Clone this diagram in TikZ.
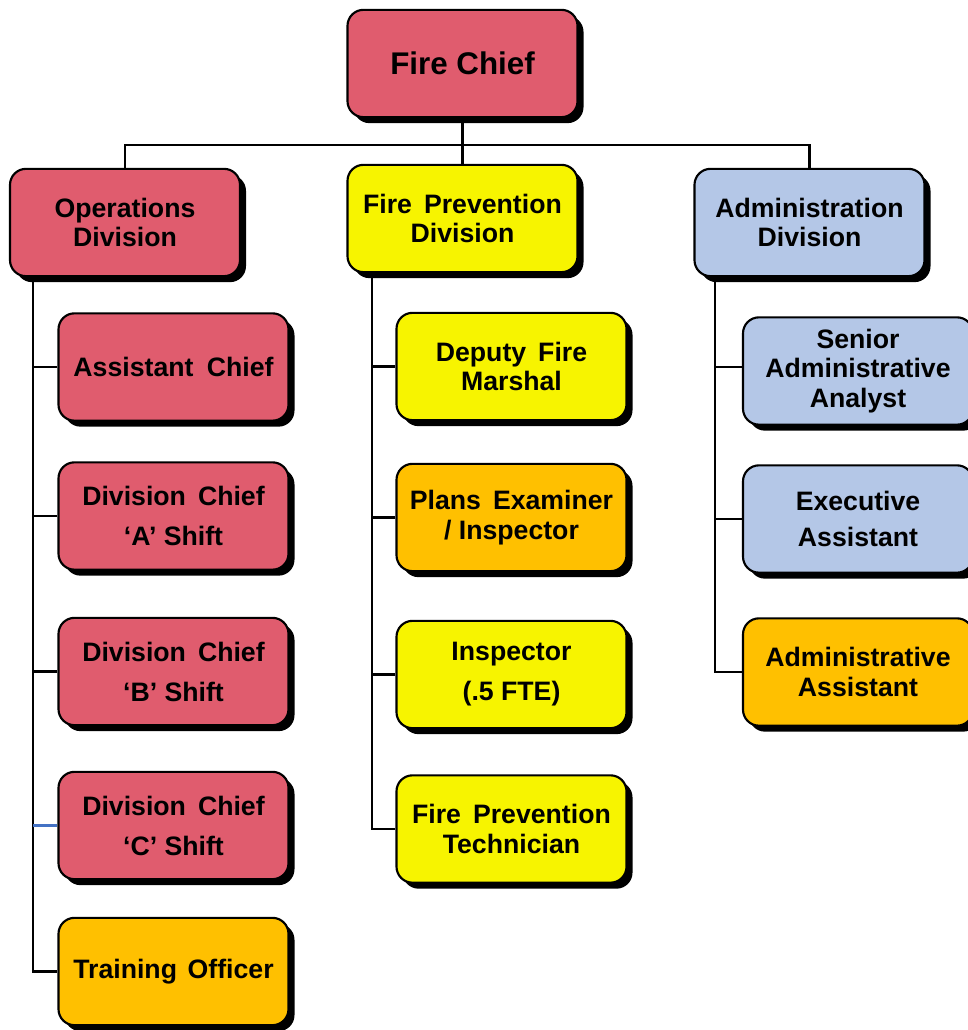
\documentclass[tikz,border=0pt]{standalone}
\usepackage{fontspec}
\setmainfont{Liberation Sans}
\usetikzlibrary{shadows}
\definecolor{cred}{HTML}{E05C6E}
\definecolor{cyel}{HTML}{F7F400}
\definecolor{corg}{HTML}{FFC000}
\definecolor{cblu}{HTML}{B4C7E7}
\definecolor{cline}{HTML}{4472C4}
\begin{document}
\begin{tikzpicture}[x=0.75pt,y=-0.75pt,
  orgbox/.style={draw=black, line width=1.6pt, rounded corners=12pt,
    minimum width=172.5pt, minimum height=80.5pt, align=center, inner sep=2pt,
    font=\bfseries\fontsize{20}{22}\selectfont,
    drop shadow={shadow xshift=4.5pt, shadow yshift=-4.5pt, fill=black, opacity=1}},
  redbox/.style={orgbox, fill=cred},
  yelbox/.style={orgbox, fill=cyel},
  orgfill/.style={orgbox, fill=corg},
  blubox/.style={orgbox, fill=cblu},
  conn/.style={draw=black, line width=1.6pt}]
\useasboundingbox (0,0) rectangle (967,1030);

% top level
\node[redbox, font=\bfseries\fontsize{23.5}{26}\selectfont] (chief) at (462.5,63.5) {Fire Chief};

% divisions
\node[redbox] (ops) at (125,222.5) {Operations\\Division};
\node[yelbox] (fpd) at (462.5,218.5) {Fire\hspace{0.45em}Prevention\\Division};
\node[blubox] (adm) at (809.5,222.5) {Administration\\Division};

% operations column
\node[redbox] (asst) at (173.5,367) {Assistant\hspace{0.5em}Chief};
\node[redbox] (dca) at (173.5,516) {Division\hspace{0.45em}Chief\\[8pt]`A' Shift};
\node[redbox] (dcb) at (173.5,671.5) {Division\hspace{0.45em}Chief\\[8pt]`B' Shift};
\node[redbox] (dcc) at (173.5,825.5) {Division\hspace{0.45em}Chief\\[8pt]`C' Shift};
\node[orgfill] (train) at (173.5,971.5) {Training\hspace{0.4em}Officer};

% fire prevention column
\node[yelbox] (dfm) at (511.5,366.5) {Deputy\hspace{0.45em}Fire\\Marshal};
\node[orgfill] (plans) at (511.5,517.5) {Plans\hspace{0.45em}Examiner\\/ Inspector};
\node[yelbox] (insp) at (511.5,674.5) {Inspector\\[8pt](.5 FTE)};
\node[yelbox] (tech) at (511.5,829) {Fire\hspace{0.45em}Prevention\\Technician};

% administration column
\node[blubox] (saa) at (858,371) {Senior\\Administrative\\Analyst};
\node[blubox] (exec) at (858,519) {Executive\\[5pt]Assistant};
\node[orgfill] (aa) at (858,672) {Administrative\\Assistant};

% top connectors
\coordinate (bus) at (462.5,145);
\draw[conn] (chief.south) -- (fpd.north);
\draw[conn] (ops.north) |- (bus) -| (adm.north);

% operations connectors
\coordinate (opsx) at (33,277);
\draw[conn] (opsx) |- (train.west);
\draw[conn] (asst.west) -- (asst.west -| opsx);
\draw[conn] (dca.west) -- (dca.west -| opsx);
\draw[conn] (dcb.west) -- (dcb.west -| opsx);
\draw[conn, draw=cline] (dcc.west) -- (dcc.west -| opsx);

% fire prevention connectors
\coordinate (fpx) at (372,272);
\draw[conn] (fpx) |- (tech.west);
\draw[conn] (dfm.west) -- (dfm.west -| fpx);
\draw[conn] (plans.west) -- (plans.west -| fpx);
\draw[conn] (insp.west) -- (insp.west -| fpx);

% administration connectors
\coordinate (admx) at (715,277);
\draw[conn] (admx) |- (aa.west);
\draw[conn] (saa.west) ++(0,-4) -- ++(-28,0);
\draw[conn] (exec.west) -- (exec.west -| admx);
\end{tikzpicture}
\end{document}
